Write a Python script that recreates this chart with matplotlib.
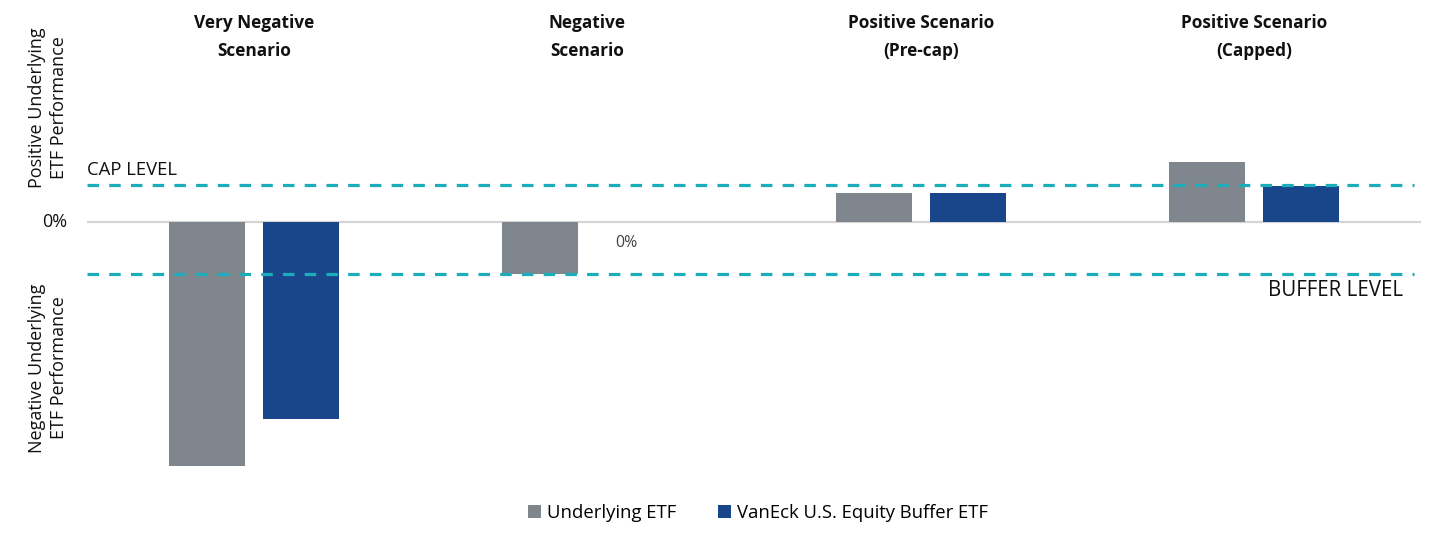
"""Buffer ETF scenario chart: underlying vs. buffer ETF across four outcomes."""
import matplotlib

matplotlib.use("Agg")
import matplotlib.pyplot as plt
import numpy as np

plt.rcParams["font.family"] = ["Open Sans", "DejaVu Sans"]

GRAY = "#7f868d"
BLUE = "#19468b"
TEAL = "#1badb9"
ZERO = "#d4d4d4"
INK = "#111111"

scenarios = ["Very Negative\nScenario", "Negative\nScenario",
             "Positive Scenario\n(Pre-cap)", "Positive Scenario\n(Capped)"]
underlying = [-47.0, -10.0, 5.6, 11.5]
buffer_etf = [-37.8, 0.0, 5.6, 7.0]
series_names = ["Underlying ETF", "VanEck U.S. Equity Buffer ETF"]
cap_level = 7.2
buffer_level = -10.0

fig = plt.figure(figsize=(14.44, 5.39), dpi=100)
ax = fig.add_axes([87 / 1444, 57 / 539, 1334 / 1444, 364 / 539])
ax.set_xlim(-0.5, 3.5)
ax.set_ylim(-50, 20)
ax.axis("off")

x = np.arange(len(scenarios))
w = 0.228
off = 0.141
ax.bar(x - off, underlying, w, color=GRAY, label=series_names[0], zorder=2)
ax.bar(x + off, buffer_etf, w, color=BLUE, label=series_names[1], zorder=2)

ax.axhline(0, color=ZERO, lw=1.6, zorder=1)
ax.plot([-0.5, 3.48], [cap_level, cap_level], color=TEAL, lw=2.3,
        dashes=(3.6, 3.2), zorder=3)
ax.plot([-0.5, 3.48], [buffer_level, buffer_level], color=TEAL, lw=2.3,
        dashes=(3.6, 3.2), zorder=3)

ax.text(-0.5, cap_level + 1.0, "CAP LEVEL", ha="left", va="bottom",
        fontsize=13.3, color=INK)
ax.text(3.445, buffer_level - 1.2, "BUFFER LEVEL", ha="right", va="top",
        fontsize=14.8, color=INK)
ax.text(-0.5 - 0.06, 0, "0%", ha="right", va="center", fontsize=13, color=INK)
ax.text(1 + off - 0.025, -4.0, "0%", ha="center", va="center", fontsize=11.5,
        color="#444444")

# scenario headings above each group
for xi, name in zip(x, scenarios):
    fig.text((87 + (xi + 0.5) * 333.5) / 1444, 1 - 37 / 539, name, ha="center",
             va="center", fontsize=12.4, fontweight="bold", color=INK,
             linespacing=1.7)

fig.text(48 / 1444, 1 - 108 / 539, "Positive Underlying\nETF Performance",
         rotation=90, ha="center", va="center", fontsize=13, color=INK,
         linespacing=1.25)
fig.text(48 / 1444, 1 - 368 / 539, "Negative Underlying\nETF Performance",
         rotation=90, ha="center", va="center", fontsize=13, color=INK,
         linespacing=1.25)

fig.legend(loc="center", bbox_to_anchor=(758 / 1444, 1 - 513 / 539), ncol=2,
           frameon=False, fontsize=13.3, handlelength=0.7, handleheight=0.7,
           handletextpad=0.3, columnspacing=2.3)

fig.savefig("out.png", dpi=100)
